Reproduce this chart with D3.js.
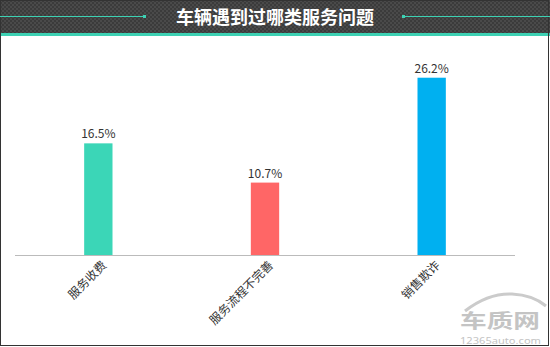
<!DOCTYPE html>
<html>
<head>
<meta charset="utf-8">
<script src="https://cdn.jsdelivr.net/npm/d3@7"></script>
<style>
  body { margin: 0; background: #fff; }
  svg { display: block; font-family: "Noto Sans CJK SC", "Noto Sans", sans-serif; }
</style>
</head>
<body>
<svg id="svg" width="550" height="347"></svg>
<script>
var categories = ['服务收费', '服务流程不完善', '销售欺诈'];
var values = [16.5, 10.7, 26.2];
var labels = ['16.5%', '10.7%', '26.2%'];
var colors = ['#3bd6b7', '#ff6666', '#00b0f0'];
var title = '车辆遇到过哪类服务问题';

var svg = d3.select("#svg");
var W = 550, H = 347;

var padding = {top: 52, right: 35, bottom: 92, left: 15};
var chartArea = {
    width: W - padding.left - padding.right,
    height: H - padding.top - padding.bottom
};

// header pattern
var defs = svg.append("defs");
var pat = defs.append("pattern")
    .attr("id", "chk").attr("width", 4).attr("height", 4)
    .attr("patternUnits", "userSpaceOnUse");
pat.append("rect").attr("width", 4).attr("height", 4).attr("fill", "#3b3b3b");
pat.append("rect").attr("width", 2).attr("height", 2).attr("fill", "#4a4a4a");
pat.append("rect").attr("x", 2).attr("y", 2).attr("width", 2).attr("height", 2).attr("fill", "#4a4a4a");

svg.append("rect").attr("width", W).attr("height", 33).attr("fill", "url(#chk)");
svg.append("rect").attr("y", 33).attr("width", W).attr("height", 3).attr("fill", "#3dd1b3");

// frame
svg.append("rect")
    .attr("x", 0.5).attr("y", 0.5).attr("width", W - 2).attr("height", H - 2)
    .attr("fill", "none").attr("stroke", "#333");

// title lines
var head = svg.append("g");
head.append("line").attr("x1", 0).attr("x2", 145).attr("y1", 16.5).attr("y2", 16.5)
    .attr("stroke", "#3dd1b3").attr("stroke-width", 1);
head.append("rect").attr("x", 143).attr("y", 15).attr("width", 3).attr("height", 3).attr("fill", "#3dd1b3");
head.append("line").attr("x1", 403).attr("x2", W).attr("y1", 16.5).attr("y2", 16.5)
    .attr("stroke", "#3dd1b3").attr("stroke-width", 1);
head.append("rect").attr("x", 402).attr("y", 15).attr("width", 3).attr("height", 3).attr("fill", "#3dd1b3");
head.append("text")
    .attr("x", 275).attr("y", 24)
    .attr("text-anchor", "middle")
    .attr("fill", "#fff")
    .attr("font-size", 18)
    .attr("font-weight", "bold")
    .text(title);

var yScale = d3.scaleLinear()
    .domain([0, 30])
    .range([chartArea.height, 0]);

var xScale = d3.scaleBand()
    .domain(categories)
    .range([0, chartArea.width])
    .padding(0);

var barW = xScale.bandwidth() * 0.17;

var g = svg.append("g")
    .attr("transform", "translate(" + padding.left + "," + padding.top + ")");

// x axis
var xAxis = g.append("g")
    .attr("transform", "translate(0," + chartArea.height + ")")
    .call(d3.axisBottom(xScale).tickSize(0).tickPadding(0));
xAxis.select(".domain").attr("stroke", "#bbb").attr("d", "M0,0.5H" + chartArea.width);
xAxis.selectAll(".tick text")
    .attr("font-size", 12)
    .attr("fill", "#333")
    .attr("font-family", "Noto Sans CJK SC, sans-serif")
    .attr("text-anchor", "end")
    .attr("dy", "0.35em")
    .attr("transform", "translate(6,8) rotate(-45)");

// bars
g.selectAll("rect.bar").data(values).enter()
    .append("rect")
    .attr("class", "bar")
    .attr("x", function (d, i) { return xScale(categories[i]) + xScale.bandwidth() / 2 - barW / 2; })
    .attr("y", function (d) { return yScale(d); })
    .attr("width", barW)
    .attr("height", function (d) { return chartArea.height - yScale(d); })
    .attr("fill", function (d, i) { return colors[i]; });

g.selectAll("text.val").data(values).enter()
    .append("text")
    .attr("class", "val")
    .attr("x", function (d, i) { return xScale(categories[i]) + xScale.bandwidth() / 2; })
    .attr("y", function (d) { return yScale(d) - 5; })
    .attr("text-anchor", "middle")
    .attr("font-size", 12)
    .attr("fill", "#333")
    .text(function (d, i) { return labels[i]; });

// watermark
var wm = svg.append("g").attr("fill", "#c4c4c4");
wm.append("path")
    .attr("d", "M465,311 Q488,293 512,294 Q533,295 546,306")
    .attr("fill", "none").attr("stroke", "#cbcbcb").attr("stroke-width", 3);
wm.append("text").attr("x", 460).attr("y", 328)
    .attr("font-size", 19).attr("font-weight", "bold")
    .attr("textLength", 80).attr("lengthAdjust", "spacingAndGlyphs").text("车质网");
wm.append("text").attr("x", 460).attr("y", 343.5)
    .attr("font-size", 9.5).attr("font-family", "Noto Sans, sans-serif")
    .attr("textLength", 81).attr("lengthAdjust", "spacingAndGlyphs").text("12365auto.com");
</script>
</body>
</html>
